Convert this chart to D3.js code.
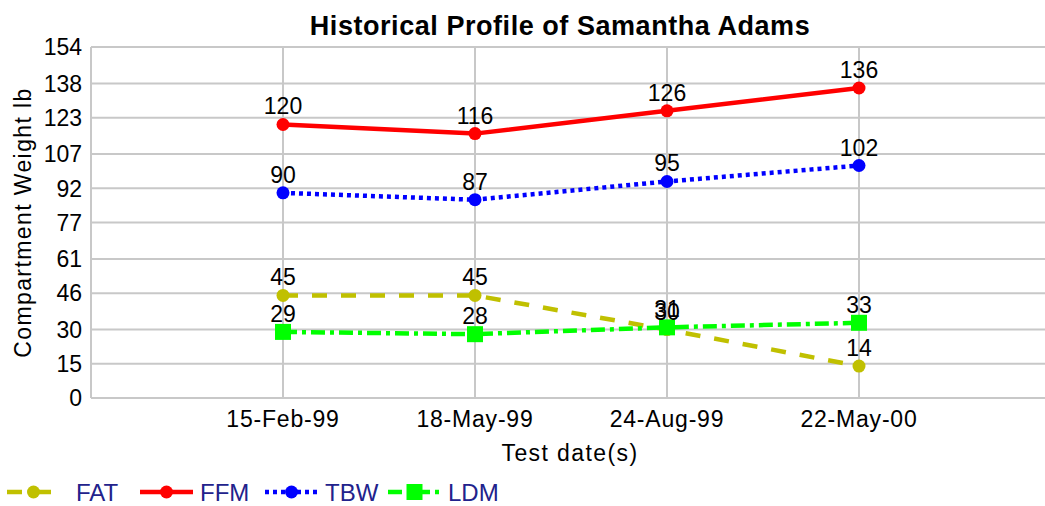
<!DOCTYPE html>
<html>
<head>
    <title>Historical Profile - D3.js</title>
    <script src="https://d3js.org/d3.v7.min.js"></script>
    <style>
        body { margin: 0; background: #fff; }
        text { font-family: "Liberation Sans", Arial, sans-serif; fill: #000; }
        .grid line { stroke: #c8c8c8; stroke-width: 2; }
        .tick-label { font-size: 23px; }
        .x-label { letter-spacing: 0.8px; }
        .value-label { font-size: 23px; text-anchor: middle; }
        .chart-title { font-size: 27px; font-weight: bold; text-anchor: middle; letter-spacing: 0.55px; }
        .axis-title { font-size: 23px; text-anchor: middle; letter-spacing: 1.4px; }
        .legend-text { font-size: 24px; fill: #22228c; }
    </style>
</head>
<body>
<div id="chart"></div>
<script>
    // data
    const dates = ["15-Feb-99", "18-May-99", "24-Aug-99", "22-May-00"];
    const fat = [45, 45, 30, 14];
    const ffm = [120, 116, 126, 136];
    const tbw = [90, 87, 95, 102];
    const ldm = [29, 28, 31, 33];
    const yTicks = [0, 15, 30, 46, 61, 77, 92, 107, 123, 138, 154];

    const series = [
        { name: "FAT", values: fat, color: "#c0c000", dash: "15,14", marker: "circle" },
        { name: "FFM", values: ffm, color: "#ff0000", dash: null, marker: "circle" },
        { name: "TBW", values: tbw, color: "#0000ff", dash: "4,4", marker: "circle" },
        { name: "LDM", values: ldm, color: "#00ff00", dash: "14,5,4,5", marker: "square" }
    ];

    const W = 1045, H = 506;
    const margin = { top: 47, right: -6, bottom: 108, left: 91 };
    const width = W - margin.left - margin.right;
    const height = H - margin.top - margin.bottom;

    const svg = d3.select("#chart").append("svg")
        .attr("width", W)
        .attr("height", H);

    const g = svg.append("g")
        .attr("transform", `translate(${margin.left},${margin.top})`);

    // x positions: the 4 dates sit at 1..4 on a 0..5 axis
    const x = d3.scaleLinear().domain([0, dates.length + 1]).range([0, width]);
    const y = d3.scaleLinear().domain([0, 154]).range([height, 0]);

    // grid
    const grid = g.append("g").attr("class", "grid");
    grid.selectAll(".h").data(yTicks).enter().append("line")
        .attr("x1", 0).attr("x2", width)
        .attr("y1", d => y(d)).attr("y2", d => y(d));
    grid.selectAll(".v").data(dates).enter().append("line")
        .attr("x1", (d, i) => x(i + 1)).attr("x2", (d, i) => x(i + 1))
        .attr("y1", 0).attr("y2", height);
    grid.append("line").attr("x1", 0).attr("x2", 0).attr("y1", 0).attr("y2", height);

    // y tick labels
    g.selectAll(".ytick").data(yTicks).enter().append("text")
        .attr("class", "tick-label")
        .attr("x", -9)
        .attr("y", d => y(d))
        .attr("dy", "0.36em")
        .attr("text-anchor", "end")
        .text(d => d);

    // x tick labels
    g.selectAll(".xtick").data(dates).enter().append("text")
        .attr("class", "tick-label x-label")
        .attr("x", (d, i) => x(i + 1))
        .attr("y", height + 29)
        .attr("text-anchor", "middle")
        .text(d => d);

    const line = d3.line()
        .x((d, i) => x(i + 1))
        .y(d => y(d));

    function drawMarker(sel, s, cx, cy) {
        if (s.marker === "square") {
            sel.append("rect")
                .attr("x", cx - 8).attr("y", cy - 8)
                .attr("width", 16).attr("height", 16)
                .attr("fill", s.color);
        } else {
            sel.append("circle")
                .attr("cx", cx).attr("cy", cy).attr("r", 6.5)
                .attr("fill", s.color);
        }
    }

    series.forEach(s => {
        g.append("path")
            .datum(s.values)
            .attr("d", line)
            .attr("fill", "none")
            .attr("stroke", s.color)
            .attr("stroke-width", 4.5)
            .attr("stroke-dasharray", s.dash);
        const mk = g.append("g");
        s.values.forEach((v, i) => drawMarker(mk, s, x(i + 1), y(v)));
    });

    series.forEach(s => {
        g.selectAll(null).data(s.values).enter().append("text")
            .attr("class", "value-label")
            .attr("x", (d, i) => x(i + 1))
            .attr("y", d => y(d) - 10)
            .text(d => d);
    });

    // titles
    svg.append("text")
        .attr("class", "chart-title")
        .attr("x", 560)
        .attr("y", 35)
        .text("Historical Profile of Samantha Adams");

    svg.append("text")
        .attr("class", "axis-title")
        .attr("x", 570)
        .attr("y", 461)
        .text("Test date(s)");

    svg.append("text")
        .attr("class", "axis-title")
        .attr("transform", `translate(31,${margin.top + height / 2}) rotate(-90)`)
        .text("Compartment Weight lb");

    // legend
    const legendX = [7, 140, 265, 388];
    const legend = svg.append("g").attr("transform", "translate(0,492)");
    series.forEach((s, i) => {
        const lg = legend.append("g").attr("transform", `translate(${legendX[i]},0)`);
        lg.append("line")
            .attr("x1", 0).attr("x2", 53)
            .attr("y1", 0).attr("y2", 0)
            .attr("stroke", s.color)
            .attr("stroke-width", 4.5)
            .attr("stroke-dasharray", s.dash);
        drawMarker(lg, s, 26.5, 0);
        lg.append("text")
            .attr("class", "legend-text")
            .attr("x", i === 0 ? 69 : 60)
            .attr("y", 0)
            .attr("dy", "0.36em")
            .text(s.name);
    });
</script>
</body>
</html>
